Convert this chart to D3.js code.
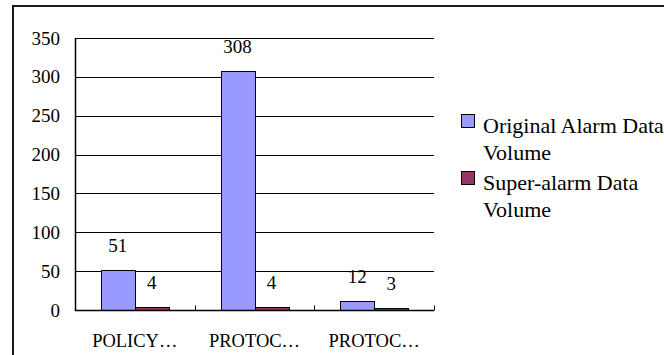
<!DOCTYPE html>
<html>
<head>
<meta charset="utf-8">
<script src="https://cdn.jsdelivr.net/npm/d3@7"></script>
<style>
  html, body { margin: 0; padding: 0; background: #fff; }
  svg { display: block; }
  text { font-family: "Liberation Serif", "Times New Roman", serif; fill: #000; }
</style>
</head>
<body>
<svg id="chart" width="664" height="355"></svg>
<script>
// Alarm volumes per rule category
const categories = ["POLICY…", "PROTOC…", "PROTOC…"];
const seriesNames = ["Original Alarm Data Volume", "Super-alarm Data Volume"];
const originalAlarm = [51, 308, 12];
const superAlarm = [4, 4, 3];
const yTicks = [0, 50, 100, 150, 200, 250, 300, 350];
const seriesColors = ["#9999FF", "#993366"];

const svg = d3.select("#chart");

// outer chart frame (runs off the right and bottom edges)
svg.append("rect")
  .attr("x", 13).attr("y", 6)
  .attr("width", 700).attr("height", 400)
  .attr("fill", "#fff")
  .attr("stroke", "#1a1a1a").attr("stroke-width", 2);

const plot = { left: 75, right: 434, top: 38, bottom: 310 };

const x = d3.scaleBand()
  .domain(d3.range(categories.length))
  .range([plot.left, plot.right])
  .paddingInner(0).paddingOuter(0);

const xs = d3.scaleBand()
  .domain(d3.range(seriesNames.length))
  .range([0, x.bandwidth()])
  .paddingInner(0).paddingOuter(0.76);

const y = d3.scaleLinear().domain([0, 350]).range([plot.bottom, plot.top]);

// horizontal gridlines
svg.append("g")
  .selectAll("line")
  .data(yTicks.filter(t => t > 0))
  .join("line")
  .attr("x1", plot.left).attr("x2", plot.right)
  .attr("y1", d => Math.round(y(d)) + 0.5).attr("y2", d => Math.round(y(d)) + 0.5)
  .attr("stroke", "#000").attr("stroke-width", 1);

// y axis labels
const yAxis = d3.axisLeft(y).tickValues(yTicks).tickSize(0).tickPadding(15);
const gy = svg.append("g")
  .attr("transform", `translate(${plot.left},0)`)
  .call(yAxis);
gy.select(".domain").remove();
gy.selectAll("text").attr("font-size", 19);

// bars
const series = [originalAlarm, superAlarm];
const groups = svg.append("g")
  .selectAll("g")
  .data(series)
  .join("g")
  .attr("fill", (d, i) => seriesColors[i]);

groups.each(function(values, si) {
  const g = d3.select(this);
  g.selectAll("rect")
    .data(values)
    .join("rect")
    .attr("x", (d, ci) => Math.round(x(ci) + xs(si)) + 0.5)
    .attr("y", d => Math.round(y(d)) + 0.5)
    .attr("width", Math.round(xs.bandwidth()))
    .attr("height", d => Math.round(y(0)) - Math.round(y(d)))
    .attr("stroke", "#000").attr("stroke-width", 1);

  g.selectAll("text")
    .data(values)
    .join("text")
    .attr("x", (d, ci) => x(ci) + xs(si) + xs.bandwidth() / 2)
    .attr("y", d => y(d) - 18)
    .attr("text-anchor", "middle")
    .attr("font-size", 19)
    .style("fill", "#000")
    .text(d => d);
});

// y axis line
svg.append("line")
  .attr("x1", plot.left + 0.5).attr("x2", plot.left + 0.5)
  .attr("y1", plot.top).attr("y2", plot.bottom + 1)
  .attr("stroke", "#000").attr("stroke-width", 1.5);

// x axis with inward category ticks
const xAxisY = Math.round(y(0)) + 0.5;
svg.append("line")
  .attr("x1", plot.left).attr("x2", plot.right)
  .attr("y1", xAxisY).attr("y2", xAxisY)
  .attr("stroke", "#000").attr("stroke-width", 1.5);

const boundaries = d3.range(categories.length + 1).map(i => i < categories.length ? x(i) : x.range()[1]);
svg.append("g")
  .selectAll("line")
  .data(boundaries)
  .join("line")
  .attr("x1", d => Math.round(d) + 0.5).attr("x2", d => Math.round(d) + 0.5)
  .attr("y1", xAxisY - 5).attr("y2", xAxisY)
  .attr("stroke", "#000").attr("stroke-width", 1);

// category labels
svg.append("g")
  .selectAll("text")
  .data(categories)
  .join("text")
  .attr("x", (d, i) => x(i) + x.bandwidth() / 2)
  .attr("y", 347)
  .attr("text-anchor", "middle")
  .attr("font-size", 18.5)
  .text(d => d);

// legend
const legendItems = [
  { color: seriesColors[0], lines: ["Original Alarm Data", "Volume"], top: 114, base: 133 },
  { color: seriesColors[1], lines: ["Super-alarm Data", "Volume"], top: 171, base: 190 }
];
const legend = svg.append("g");
legendItems.forEach(item => {
  legend.append("rect")
    .attr("x", 461.5).attr("y", item.top + 0.5)
    .attr("width", 13).attr("height", 13)
    .attr("fill", item.color)
    .attr("stroke", "#000").attr("stroke-width", 1);
  item.lines.forEach((ln, li) => {
    legend.append("text")
      .attr("x", 483)
      .attr("y", item.base + li * 27)
      .attr("font-size", 22)
      .text(ln);
  });
});
</script>
</body>
</html>
